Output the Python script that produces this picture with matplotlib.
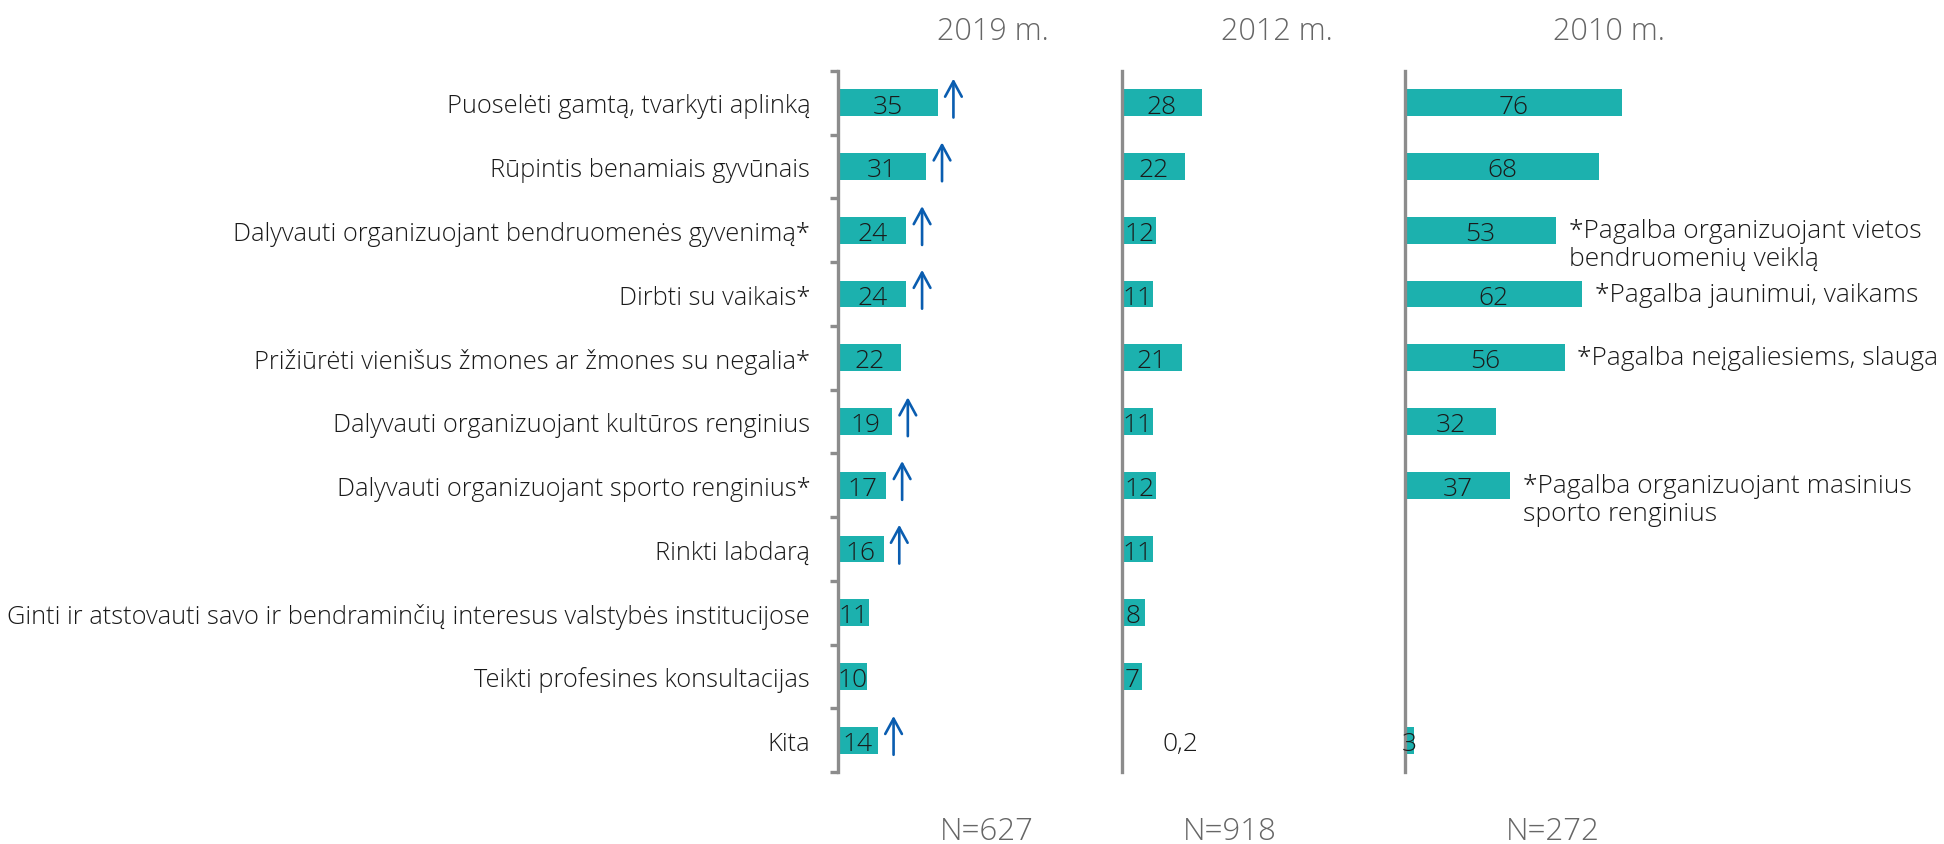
import numpy as np
import matplotlib.pyplot as plt

#   the data
categories = [
    "Puoselėti gamtą, tvarkyti aplinką",
    "Rūpintis benamiais gyvūnais",
    "Dalyvauti organizuojant bendruomenės gyvenimą*",
    "Dirbti su vaikais*",
    "Prižiūrėti vienišus žmones ar žmones su negalia*",
    "Dalyvauti organizuojant kultūros renginius",
    "Dalyvauti organizuojant sporto renginius*",
    "Rinkti labdarą",
    "Ginti ir atstovauti savo ir bendraminčių interesus valstybės institucijose",
    "Teikti profesines konsultacijas",
    "Kita",
]
v2019 = [35, 31, 24, 24, 22, 19, 17, 16, 11, 10, 14]
up2019 = [True, True, True, True, False, True, True, True, False, False, True]
v2012 = [28, 22, 12, 11, 21, 11, 12, 11, 8, 7, 0.2]
v2010 = [76, 68, 53, 62, 56, 32, 37, None, None, None, 3]
notes2010 = [None, None,
             "*Pagalba organizuojant vietos\nbendruomenių veiklą",
             "*Pagalba jaunimui, vaikams",
             "*Pagalba neįgaliesiems, slauga",
             None,
             "*Pagalba organizuojant masinius\nsporto renginius",
             None, None, None, None]
years = ["2019 m.", "2012 m.", "2010 m."]
sample_sizes = ["N=627", "N=918", "N=272"]

#   styles
bar_color = '#1CB1AE'
arrow_color = '#0A5DB0'
spine_color = '#8C8C8C'
gray_text = '#666666'
dark_text = '#1A1A1A'
plt.rcParams['font.family'] = ['Open Sans', 'DejaVu Sans']
plt.rcParams['font.weight'] = 'light'

W, H = 1944, 845
px_per_unit = 2.85
fig = plt.figure(figsize=(W / 100, H / 100), dpi=100)

ax_top, ax_bottom = 72, 773
panels = [(838, 270), (1122, 270), (1405, 530)]   # left edge, width in px
axes = []
for left, width in panels:
    ax = fig.add_axes([left / W, (H - ax_bottom) / H, width / W, (ax_bottom - ax_top) / H])
    ax.set_xlim(0, width / px_per_unit)
    ax.set_ylim(len(categories) - 0.5, -0.5)
    for s in ['top', 'right', 'bottom']:
        ax.spines[s].set_visible(False)
    ax.spines['left'].set_color(spine_color)
    ax.spines['left'].set_linewidth(2.4)
    ax.set_xticks([])
    ax.set_yticks([])
    ax.patch.set_alpha(0)
    axes.append(ax)

y = np.arange(len(categories))
bar_h = 0.42


def fmt(v):
    if float(v).is_integer():
        return str(int(v))
    return str(v).replace('.', ',')


def draw_bars(ax, values):
    for i, v in enumerate(values):
        if v is None:
            continue
        ax.barh(i, v, height=bar_h, color=bar_color)
        if v < 1:
            ax.text(v + 14, i + 0.05, fmt(v), ha='left', va='center', fontsize=19, color=dark_text)
        else:
            ax.text(v / 2, i + 0.05, fmt(v), ha='center', va='center', fontsize=19, color=dark_text)


#   2019 panel
ax1 = axes[0]
draw_bars(ax1, v2019)
ax1.set_yticks(y)
ax1.set_yticklabels(categories, fontsize=18.3, color=dark_text)
ax1.tick_params(axis='y', which='major', length=0, pad=20)
ax1.set_yticks(np.arange(-0.5, len(categories)), minor=True)
ax1.tick_params(axis='y', which='minor', length=6, width=2.4, color=spine_color, direction='out')

for i, v in enumerate(v2019):
    if up2019[i]:
        ax1.annotate('', xy=(v + 5.5, i - 0.38), xytext=(v + 5.5, i + 0.23),
                     arrowprops=dict(arrowstyle='->,head_length=0.55,head_width=0.3',
                                     color=arrow_color, lw=1.9, mutation_scale=20,
                                     shrinkA=0, shrinkB=0))

#   2012 panel
draw_bars(axes[1], v2012)

#   2010 panel
ax3 = axes[2]
draw_bars(ax3, v2010)
for i, note in enumerate(notes2010):
    if note is None:
        continue
    for k, line in enumerate(note.split('\n')):
        ax3.text(v2010[i] + 4.5, i + k * 0.44, line, ha='left', va='center', fontsize=19,
                 color=dark_text)

#   column titles and sample sizes
title_x = [993, 1277, 1609]
n_x = [987, 1230, 1553]
for t, tx in zip(years, title_x):
    fig.text(tx / W, 1 - 32 / H, t, ha='center', va='center', fontsize=22, color=gray_text)
for n, nx in zip(sample_sizes, n_x):
    fig.text(nx / W, 1 - 832 / H, n, ha='center', va='center', fontsize=22.5, color=gray_text)

fig.savefig('out.png', dpi=100)
